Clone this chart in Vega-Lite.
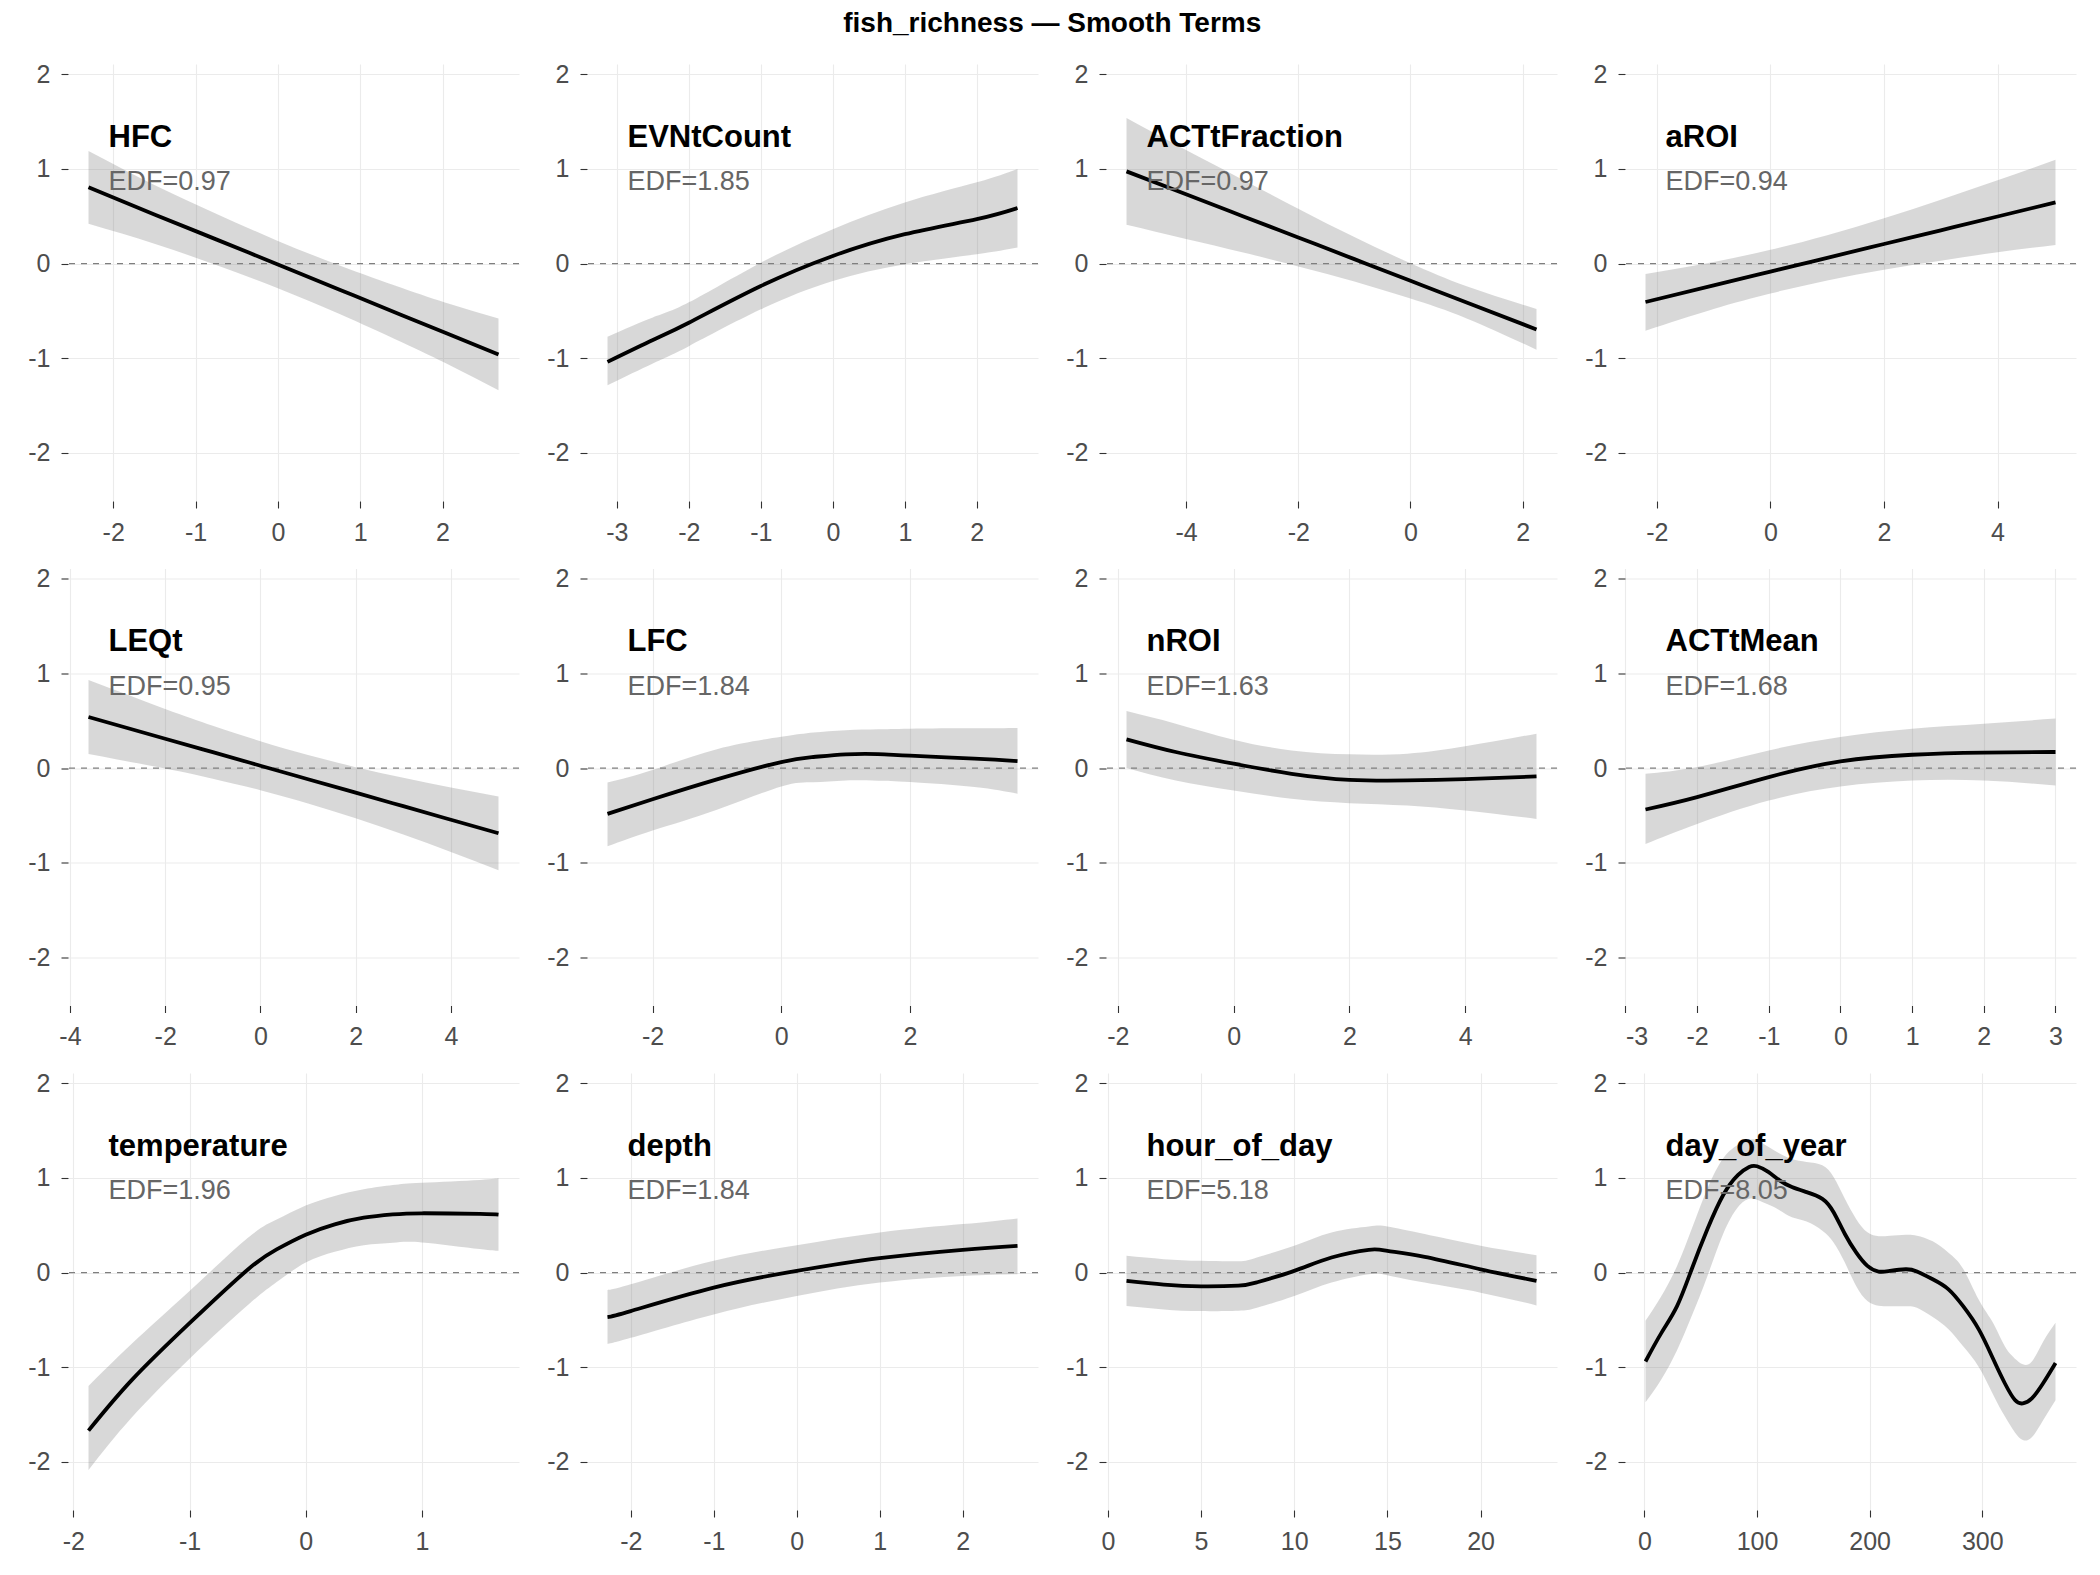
{
  "$schema": "https://vega.github.io/schema/vega-lite/v6.json",
  "padding": {"left": 27, "top": 10, "right": 5, "bottom": 5},
  "title": {"text": "fish_richness — Smooth Terms", "fontSize": 28, "fontWeight": "bold", "color": "#000000", "anchor": "middle", "offset": 24, "font": "Liberation Sans"},
  "data": {"values": [
    {"term": "HFC", "x": -2.3, "y": 0.806, "lo": 0.42, "hi": 1.19, "edf": "EDF=0.97"},
    {"term": "HFC", "x": -1.5, "y": 0.52, "lo": 0.21, "hi": 0.83},
    {"term": "HFC", "x": -0.75, "y": 0.256, "lo": -0.015, "hi": 0.527},
    {"term": "HFC", "x": 0, "y": -0.01, "lo": -0.26, "hi": 0.24},
    {"term": "HFC", "x": 0.75, "y": -0.276, "lo": -0.533, "hi": -0.019},
    {"term": "HFC", "x": 1.5, "y": -0.543, "lo": -0.83, "hi": -0.255},
    {"term": "HFC", "x": 2.1, "y": -0.755, "lo": -1.08, "hi": -0.43},
    {"term": "HFC", "x": 2.68, "y": -0.961, "lo": -1.34, "hi": -0.58},

    {"term": "EVNtCount", "x": -3.13, "y": -1.039, "lo": -1.286, "hi": -0.773, "edf": "EDF=1.85"},
    {"term": "EVNtCount", "x": -2.5, "y": -0.808, "lo": -1.056, "hi": -0.57},
    {"term": "EVNtCount", "x": -2, "y": -0.625, "lo": -0.873, "hi": -0.41},
    {"term": "EVNtCount", "x": -1, "y": -0.237, "lo": -0.484, "hi": 0.01},
    {"term": "EVNtCount", "x": 0, "y": 0.081, "lo": -0.184, "hi": 0.364},
    {"term": "EVNtCount", "x": 1, "y": 0.311, "lo": -0.007, "hi": 0.647},
    {"term": "EVNtCount", "x": 2, "y": 0.47, "lo": 0.099, "hi": 0.859},
    {"term": "EVNtCount", "x": 2.565, "y": 0.587, "lo": 0.17, "hi": 1.0},

    {"term": "ACTtFraction", "x": -5.06, "y": 0.975, "lo": 0.41, "hi": 1.54, "edf": "EDF=0.97"},
    {"term": "ACTtFraction", "x": -4, "y": 0.733, "lo": 0.26, "hi": 1.2},
    {"term": "ACTtFraction", "x": -3, "y": 0.504, "lo": 0.12, "hi": 0.89},
    {"term": "ACTtFraction", "x": -2, "y": 0.276, "lo": -0.03, "hi": 0.58},
    {"term": "ACTtFraction", "x": -1, "y": 0.047, "lo": -0.19, "hi": 0.28},
    {"term": "ACTtFraction", "x": 0, "y": -0.182, "lo": -0.37, "hi": 0.003},
    {"term": "ACTtFraction", "x": 1, "y": -0.411, "lo": -0.58, "hi": -0.24},
    {"term": "ACTtFraction", "x": 2.245, "y": -0.696, "lo": -0.91, "hi": -0.48},

    {"term": "aROI", "x": -2.2, "y": -0.406, "lo": -0.71, "hi": -0.11, "edf": "EDF=0.94"},
    {"term": "aROI", "x": -1, "y": -0.231, "lo": -0.48, "hi": 0.018},
    {"term": "aROI", "x": 0, "y": -0.085, "lo": -0.316, "hi": 0.146},
    {"term": "aROI", "x": 1, "y": 0.061, "lo": -0.178, "hi": 0.3},
    {"term": "aROI", "x": 2, "y": 0.207, "lo": -0.064, "hi": 0.478},
    {"term": "aROI", "x": 3, "y": 0.352, "lo": 0.03, "hi": 0.674},
    {"term": "aROI", "x": 4, "y": 0.498, "lo": 0.12, "hi": 0.88},
    {"term": "aROI", "x": 5.02, "y": 0.647, "lo": 0.197, "hi": 1.097},

    {"term": "LEQt", "x": -3.61, "y": 0.54, "lo": 0.15, "hi": 0.93, "edf": "EDF=0.95"},
    {"term": "LEQt", "x": -2, "y": 0.31, "lo": -0.005, "hi": 0.625},
    {"term": "LEQt", "x": -1, "y": 0.168, "lo": -0.112, "hi": 0.448},
    {"term": "LEQt", "x": 0, "y": 0.025, "lo": -0.234, "hi": 0.284},
    {"term": "LEQt", "x": 1, "y": -0.118, "lo": -0.374, "hi": 0.138},
    {"term": "LEQt", "x": 2, "y": -0.26, "lo": -0.53, "hi": 0.01},
    {"term": "LEQt", "x": 3, "y": -0.403, "lo": -0.703, "hi": -0.103},
    {"term": "LEQt", "x": 4, "y": -0.546, "lo": -0.887, "hi": -0.205},
    {"term": "LEQt", "x": 5, "y": -0.689, "lo": -1.08, "hi": -0.3},

    {"term": "LFC", "x": -2.7, "y": -0.484, "lo": -0.827, "hi": -0.152, "edf": "EDF=1.84"},
    {"term": "LFC", "x": -2, "y": -0.33, "lo": -0.66, "hi": -0.02},
    {"term": "LFC", "x": -1, "y": -0.12, "lo": -0.44, "hi": 0.2},
    {"term": "LFC", "x": 0, "y": 0.064, "lo": -0.194, "hi": 0.33},
    {"term": "LFC", "x": 0.5, "y": 0.117, "lo": -0.15, "hi": 0.375},
    {"term": "LFC", "x": 1, "y": 0.145, "lo": -0.131, "hi": 0.4},
    {"term": "LFC", "x": 1.5, "y": 0.148, "lo": -0.135, "hi": 0.41},
    {"term": "LFC", "x": 2, "y": 0.131, "lo": -0.148, "hi": 0.417},
    {"term": "LFC", "x": 3, "y": 0.1, "lo": -0.201, "hi": 0.42},
    {"term": "LFC", "x": 3.67, "y": 0.074, "lo": -0.272, "hi": 0.424},

    {"term": "nROI", "x": -1.85, "y": 0.304, "lo": 0.0, "hi": 0.604, "edf": "EDF=1.63"},
    {"term": "nROI", "x": -1, "y": 0.17, "lo": -0.131, "hi": 0.47},
    {"term": "nROI", "x": 0, "y": 0.046, "lo": -0.237, "hi": 0.3},
    {"term": "nROI", "x": 1, "y": -0.06, "lo": -0.325, "hi": 0.187},
    {"term": "nROI", "x": 2, "y": -0.124, "lo": -0.371, "hi": 0.145},
    {"term": "nROI", "x": 3, "y": -0.131, "lo": -0.396, "hi": 0.152},
    {"term": "nROI", "x": 4, "y": -0.117, "lo": -0.449, "hi": 0.23},
    {"term": "nROI", "x": 5.23, "y": -0.088, "lo": -0.537, "hi": 0.364},

    {"term": "ACTtMean", "x": -2.72, "y": -0.438, "lo": -0.802, "hi": -0.06, "edf": "EDF=1.68"},
    {"term": "ACTtMean", "x": -2, "y": -0.307, "lo": -0.59, "hi": 0.011},
    {"term": "ACTtMean", "x": -1, "y": -0.095, "lo": -0.343, "hi": 0.187},
    {"term": "ACTtMean", "x": 0, "y": 0.071, "lo": -0.194, "hi": 0.329},
    {"term": "ACTtMean", "x": 1, "y": 0.141, "lo": -0.131, "hi": 0.417},
    {"term": "ACTtMean", "x": 2, "y": 0.163, "lo": -0.131, "hi": 0.47},
    {"term": "ACTtMean", "x": 3.0, "y": 0.17, "lo": -0.184, "hi": 0.523},

    {"term": "temperature", "x": -1.87, "y": -1.671, "lo": -2.088, "hi": -1.2, "edf": "EDF=1.96"},
    {"term": "temperature", "x": -1.5, "y": -1.14, "lo": -1.535, "hi": -0.755},
    {"term": "temperature", "x": -1, "y": -0.535, "lo": -0.91, "hi": -0.195},
    {"term": "temperature", "x": -0.5, "y": 0.03, "lo": -0.345, "hi": 0.365},
    {"term": "temperature", "x": -0.25, "y": 0.245, "lo": -0.1, "hi": 0.56},
    {"term": "temperature", "x": 0, "y": 0.4, "lo": 0.106, "hi": 0.708},
    {"term": "temperature", "x": 0.25, "y": 0.51, "lo": 0.22, "hi": 0.81},
    {"term": "temperature", "x": 0.5, "y": 0.58, "lo": 0.29, "hi": 0.88},
    {"term": "temperature", "x": 0.75, "y": 0.615, "lo": 0.315, "hi": 0.925},
    {"term": "temperature", "x": 1, "y": 0.627, "lo": 0.319, "hi": 0.949},
    {"term": "temperature", "x": 1.5, "y": 0.62, "lo": 0.248, "hi": 0.98},
    {"term": "temperature", "x": 1.66, "y": 0.612, "lo": 0.23, "hi": 1.0},

    {"term": "depth", "x": -2.28, "y": -0.471, "lo": -0.754, "hi": -0.184, "edf": "EDF=1.84"},
    {"term": "depth", "x": -2, "y": -0.407, "lo": -0.69, "hi": -0.124},
    {"term": "depth", "x": -1, "y": -0.159, "lo": -0.442, "hi": 0.124},
    {"term": "depth", "x": 0, "y": 0.018, "lo": -0.248, "hi": 0.29},
    {"term": "depth", "x": 1, "y": 0.152, "lo": -0.106, "hi": 0.425},
    {"term": "depth", "x": 2, "y": 0.241, "lo": -0.035, "hi": 0.513},
    {"term": "depth", "x": 2.66, "y": 0.283, "lo": -0.018, "hi": 0.573},

    {"term": "hour_of_day", "x": 1, "y": -0.088, "lo": -0.354, "hi": 0.177, "edf": "EDF=5.18"},
    {"term": "hour_of_day", "x": 3, "y": -0.127, "lo": -0.389, "hi": 0.142},
    {"term": "hour_of_day", "x": 5, "y": -0.145, "lo": -0.407, "hi": 0.124},
    {"term": "hour_of_day", "x": 7, "y": -0.138, "lo": -0.403, "hi": 0.12},
    {"term": "hour_of_day", "x": 8, "y": -0.103, "lo": -0.372, "hi": 0.16},
    {"term": "hour_of_day", "x": 10, "y": 0.018, "lo": -0.248, "hi": 0.283},
    {"term": "hour_of_day", "x": 12, "y": 0.159, "lo": -0.106, "hi": 0.425},
    {"term": "hour_of_day", "x": 14, "y": 0.241, "lo": -0.018, "hi": 0.488},
    {"term": "hour_of_day", "x": 15, "y": 0.23, "lo": -0.028, "hi": 0.488},
    {"term": "hour_of_day", "x": 17, "y": 0.166, "lo": -0.106, "hi": 0.407},
    {"term": "hour_of_day", "x": 20, "y": 0.035, "lo": -0.212, "hi": 0.283},
    {"term": "hour_of_day", "x": 23, "y": -0.088, "lo": -0.347, "hi": 0.184},

    {"term": "day_of_year", "x": 1, "y": -0.94, "lo": -1.37, "hi": -0.51, "edf": "EDF=8.05"},
    {"term": "day_of_year", "x": 15, "y": -0.64, "lo": -1.13, "hi": -0.25},
    {"term": "day_of_year", "x": 29, "y": -0.355, "lo": -0.82, "hi": 0.07},
    {"term": "day_of_year", "x": 42, "y": 0.035, "lo": -0.46, "hi": 0.46},
    {"term": "day_of_year", "x": 56, "y": 0.46, "lo": -0.035, "hi": 0.89},
    {"term": "day_of_year", "x": 70, "y": 0.82, "lo": 0.41, "hi": 1.21},
    {"term": "day_of_year", "x": 83, "y": 1.03, "lo": 0.69, "hi": 1.35},
    {"term": "day_of_year", "x": 93, "y": 1.117, "lo": 0.78, "hi": 1.4},
    {"term": "day_of_year", "x": 100, "y": 1.124, "lo": 0.77, "hi": 1.4},
    {"term": "day_of_year", "x": 110, "y": 1.064, "lo": 0.72, "hi": 1.33},
    {"term": "day_of_year", "x": 120, "y": 0.975, "lo": 0.66, "hi": 1.26},
    {"term": "day_of_year", "x": 131, "y": 0.904, "lo": 0.585, "hi": 1.2},
    {"term": "day_of_year", "x": 144, "y": 0.851, "lo": 0.54, "hi": 1.17},
    {"term": "day_of_year", "x": 158, "y": 0.78, "lo": 0.443, "hi": 1.135},
    {"term": "day_of_year", "x": 168, "y": 0.638, "lo": 0.319, "hi": 1.01},
    {"term": "day_of_year", "x": 178, "y": 0.408, "lo": 0.106, "hi": 0.78},
    {"term": "day_of_year", "x": 188, "y": 0.213, "lo": -0.142, "hi": 0.567},
    {"term": "day_of_year", "x": 198, "y": 0.071, "lo": -0.301, "hi": 0.426},
    {"term": "day_of_year", "x": 208, "y": 0.011, "lo": -0.35, "hi": 0.385},
    {"term": "day_of_year", "x": 218, "y": 0.018, "lo": -0.355, "hi": 0.39},
    {"term": "day_of_year", "x": 232, "y": 0.035, "lo": -0.355, "hi": 0.4},
    {"term": "day_of_year", "x": 242, "y": 0.011, "lo": -0.372, "hi": 0.39},
    {"term": "day_of_year", "x": 256, "y": -0.071, "lo": -0.47, "hi": 0.33},
    {"term": "day_of_year", "x": 270, "y": -0.177, "lo": -0.6, "hi": 0.21},
    {"term": "day_of_year", "x": 283, "y": -0.355, "lo": -0.78, "hi": 0.04},
    {"term": "day_of_year", "x": 297, "y": -0.603, "lo": -1.0, "hi": -0.29},
    {"term": "day_of_year", "x": 310, "y": -0.922, "lo": -1.3, "hi": -0.54},
    {"term": "day_of_year", "x": 320, "y": -1.17, "lo": -1.52, "hi": -0.78},
    {"term": "day_of_year", "x": 329, "y": -1.348, "lo": -1.69, "hi": -0.91},
    {"term": "day_of_year", "x": 336, "y": -1.383, "lo": -1.77, "hi": -0.97},
    {"term": "day_of_year", "x": 344, "y": -1.33, "lo": -1.74, "hi": -0.94},
    {"term": "day_of_year", "x": 354, "y": -1.17, "lo": -1.56, "hi": -0.73},
    {"term": "day_of_year", "x": 365, "y": -0.957, "lo": -1.35, "hi": -0.53}
  ]},
  "facet": {
    "field": "term", "type": "nominal",
    "sort": ["HFC", "EVNtCount", "ACTtFraction", "aROI", "LEQt", "LFC", "nROI", "ACTtMean", "temperature", "depth", "hour_of_day", "day_of_year"],
    "header": {"title": null, "labels": false, "labelExpr": "''", "labelFontSize": 0, "labelPadding": 0}
  },
  "columns": 4,
  "spacing": {"row": 21.5, "column": 26},
  "spec": {
    "width": 451,
    "height": 437,
    "encoding": {
      "x": {"field": "x", "type": "quantitative", "title": null,
            "scale": {"zero": false, "nice": false, "padding": 20.5},
            "axis": {"tickCount": 4.9, "title": null}},
      "y": {"type": "quantitative"}
    },
    "layer": [
      {
        "mark": {"type": "area", "color": "#7F7F7F", "opacity": 0.3, "interpolate": "natural"},
        "encoding": {
          "y": {"field": "lo", "type": "quantitative", "title": null,
                "scale": {"domain": [-2.51, 2.11], "nice": false, "zero": false},
                "axis": {"values": [-2, -1, 0, 1, 2], "format": "d", "title": null}},
          "y2": {"field": "hi"}
        }
      },
      {
        "transform": [{"filter": "isValid(datum.edf)"}],
        "mark": {"type": "rule", "color": "#7F7F7F", "strokeWidth": 1.4, "strokeDash": [6, 6]},
        "encoding": {"x": null, "y": {"datum": 0, "type": "quantitative"}}
      },
      {
        "mark": {"type": "line", "color": "#000000", "strokeWidth": 3.8, "interpolate": "natural"},
        "encoding": {"y": {"field": "y", "type": "quantitative"}}
      },
      {
        "transform": [{"filter": "isValid(datum.edf)"}],
        "mark": {"type": "text", "align": "left", "baseline": "alphabetic", "dx": 20, "fontSize": 31, "fontWeight": "bold", "color": "#000000", "font": "Liberation Sans"},
        "encoding": {"y": {"datum": 1.234, "type": "quantitative"}, "text": {"field": "term"}}
      },
      {
        "transform": [{"filter": "isValid(datum.edf)"}],
        "mark": {"type": "text", "align": "left", "baseline": "alphabetic", "dx": 20, "fontSize": 27, "color": "#666666", "font": "Liberation Sans"},
        "encoding": {"y": {"datum": 0.776, "type": "quantitative"}, "text": {"field": "edf"}}
      }
    ]
  },
  "resolve": {"scale": {"x": "independent"}, "axis": {"x": "independent", "y": "independent"}},
  "config": {
    "font": "Liberation Sans",
    "view": {"stroke": null},
    "header": {"labels": false, "title": null},
    "headerFacet": {"labels": false, "title": null, "labelFontSize": 0, "labelPadding": 0},
    "locale": {"number": {"decimal": ".", "thousands": ",", "grouping": [3], "currency": ["$", ""], "minus": "-"}},
    "axis": {"domain": false, "grid": true, "gridColor": "#EBEBEB", "gridWidth": 1.1, "tickColor": "#333333", "tickWidth": 1.1, "tickSize": 7, "labelColor": "#4D4D4D", "labelFontSize": 25, "labelFont": "Liberation Sans"},
    "axisX": {"labelPadding": 12},
    "axisY": {"labelPadding": 11}
  }
}
